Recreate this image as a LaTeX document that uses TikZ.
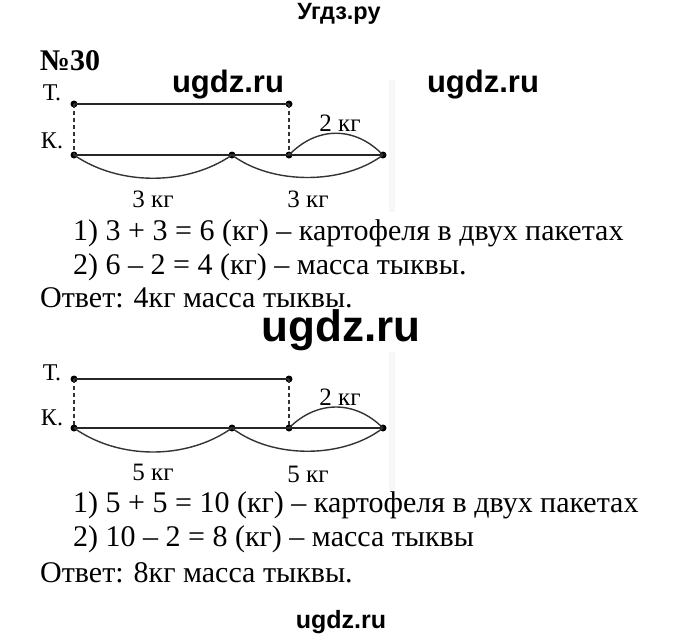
\documentclass[tikz,border=0pt]{standalone}
\usepackage{fontspec}
\setmainfont{Liberation Serif}
\newfontfamily\wmfont{Liberation Sans}
\begin{document}
\begin{tikzpicture}[x=1pt,y=-1pt,
  seg/.style={line width=2.8pt,black!85},
  arcline/.style={line width=1.4pt,black!80},
  dashline/.style={line width=1.3pt,black!80,dash pattern=on 4pt off 3pt},
  dot/.style={circle,fill=black,inner sep=0pt,minimum size=7pt},
  lab/.style={inner sep=0pt,font=\fontsize{24}{26}\selectfont},
  kg/.style={inner sep=0pt,font=\fontsize{25}{27}\selectfont},
  txt/.style={inner sep=0pt,anchor=west,font=\fontsize{30}{32}\selectfont},
  wm/.style={inner sep=0pt,font=\wmfont\bfseries\fontsize{31}{33}\selectfont},
  shade/.style={fill=black!3,draw=none}]
\useasboundingbox (0,0) rectangle (680,641);
% faint page edge shading
\fill[shade] (389,80) rectangle (395,212);
\fill[shade] (389,352) rectangle (395,490);
% header watermark
\node[wm,font=\wmfont\bfseries\fontsize{23.5}{25}\selectfont] (hdr) at (339,14) {Угдз.ру};
\node[inner sep=0pt,font=\bfseries\fontsize{30}{32}\selectfont] (num) at (70,61) {№30};
% ---------- diagram 1 ----------
\node[lab] (T1) at (52,93) {Т.};
\node[lab] (K1) at (52,141) {К.};
\node[dot] (a1) at (74,104) {};
\node[dot] (b1) at (289,104) {};
\node[dot] (c1) at (74,155) {};
\node[dot] (m1) at (232,155) {};
\node[dot] (d1) at (289,155) {};
\node[dot] (e1) at (383,155) {};
\draw[seg] (a1.center) -- (b1.center);
\draw[seg] (c1.center) -- (e1.center);
\draw[dashline] (a1.center) -- (c1.center);
\draw[dashline] (b1.center) -- (d1.center);
\draw[arcline] (c1.center) .. controls +(45,31) and +(-45,31) .. (m1.center);
\draw[arcline] (m1.center) .. controls +(40,30) and +(-40,30) .. (e1.center);
\draw[arcline] (d1.center) .. controls +(28,-29) and +(-28,-29) .. (e1.center);
\node[kg] (u1) at (340,123) {2 кг};
\node[kg] (v1) at (153,199) {3 кг};
\node[kg] (w1) at (308,199) {3 кг};
\node[wm] (wa) at (228,85) {ugdz.ru};
\node[wm] (wb) at (483,85) {ugdz.ru};
\node[txt] (l11) at (73,233) {1) 3 + 3 = 6 (кг) – картофеля в двух пакетах};
\node[txt] (l12) at (73,267) {2) 6 – 2 = 4 (кг) – масса тыквы.};
\node[txt] (l13) at (40,298) {Ответ: 4кг масса тыквы.};
\node[wm,font=\wmfont\bfseries\fontsize{44}{46}\selectfont] (wbig) at (341,330) {ugdz.ru};
% ---------- diagram 2 ----------
\node[lab] (T2) at (52,373) {Т.};
\node[lab] (K2) at (52,418) {К.};
\node[dot] (a2) at (74,379) {};
\node[dot] (b2) at (289,379) {};
\node[dot] (c2) at (74,428) {};
\node[dot] (m2) at (232,428) {};
\node[dot] (d2) at (289,428) {};
\node[dot] (e2) at (383,428) {};
\draw[seg] (a2.center) -- (b2.center);
\draw[seg] (c2.center) -- (e2.center);
\draw[dashline] (a2.center) -- (c2.center);
\draw[dashline] (b2.center) -- (d2.center);
\draw[arcline] (c2.center) .. controls +(45,32) and +(-45,32) .. (m2.center);
\draw[arcline] (m2.center) .. controls +(40,31) and +(-40,31) .. (e2.center);
\draw[arcline] (d2.center) .. controls +(28,-28) and +(-28,-28) .. (e2.center);
\node[kg] (u2) at (340,397) {2 кг};
\node[kg] (v2) at (153,472) {5 кг};
\node[kg] (w2) at (308,474) {5 кг};
\node[txt] (l21) at (73,505) {1) 5 + 5 = 10 (кг) – картофеля в двух пакетах};
\node[txt] (l22) at (73,539) {2) 10 – 2 = 8 (кг) – масса тыквы};
\node[txt] (l23) at (40,573) {Ответ: 8кг масса тыквы.};
\node[wm,font=\wmfont\bfseries\fontsize{25}{27}\selectfont] (wbot) at (341,622) {ugdz.ru};
\end{tikzpicture}
\end{document}
